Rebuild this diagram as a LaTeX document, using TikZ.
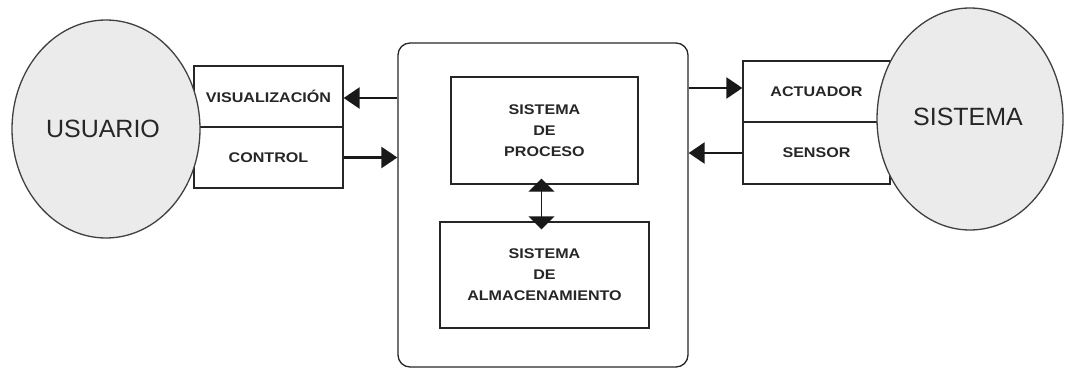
\documentclass[tikz,border=0pt]{standalone}
\usepackage{fontspec}
\setmainfont{Liberation Sans}
\newfontfamily\lblfont{Liberation Sans}[FakeStretch=1.15]
\usetikzlibrary{arrows.meta,shapes.geometric}
\tikzset{
  frame/.style={draw=black!85, line width=1.3pt},
  blk/.style={frame, rectangle, inner sep=0pt, align=center,
    font=\lblfont\bfseries\fontsize{14}{21}\selectfont, text=black!85},
  actor/.style={draw=black!75, line width=1.3pt, fill=black!8, ellipse,
    inner sep=0pt},
  actorlbl/.style={font=\fontsize{25}{25}\selectfont, text=black!85},
  flow/.style={line width=2.6pt, draw=black!90,
    -{Triangle[length=16pt,width=21pt]}},
  link/.style={line width=1.3pt, draw=black!90,
    {Triangle[length=13pt,width=26pt]}-{Triangle[length=13pt,width=26pt]}}
}
\begin{document}
\begin{tikzpicture}[x=1pt,y=-1pt]
\useasboundingbox (0,0) rectangle (1065,369);

% interface boxes (drawn first, the actors overlap their outer edges)
\node[blk, minimum width=149pt, minimum height=61pt] (vis) at (268.5,96.5) {VISUALIZACIÓN};
\node[blk, minimum width=149pt, minimum height=61pt] (ctl) at (268.5,157.5) {CONTROL};
\node[blk, minimum width=147pt, minimum height=61pt] (act) at (816.5,91.5) {ACTUADOR};
\node[blk, minimum width=147pt, minimum height=62pt] (sen) at (816.5,153) {SENSOR};

% actors
\node[actor, minimum width=188pt, minimum height=218pt] (usr) at (106,129) {};
\node[actorlbl] (usrlbl) at (103,129) {USUARIO};
\node[actor, minimum width=186pt, minimum height=222pt] (sys) at (970,119) {};
\node[actorlbl] (syslbl) at (968,117) {SISTEMA};

% central system
\node[frame, rectangle, rounded corners=12pt, minimum width=290pt, minimum height=324pt] (main) at (543,205) {};
\node[blk, minimum width=187pt, minimum height=107pt] (proc) at (544.5,130.5) {SISTEMA\\DE\\PROCESO};
\node[blk, minimum width=209pt, minimum height=106pt] (alm) at (544.5,275) {SISTEMA\\DE\\ALMACENAMIENTO};

% data flows
\draw[flow] ([yshift=-1.5pt]main.west |- vis.east) -- ([yshift=-1.5pt]vis.east);
\draw[flow] (ctl.east) -- (main.west |- ctl.east);
\draw[flow] ([yshift=3.5pt]main.east |- act.west) -- ([yshift=3.5pt]act.west);
\draw[flow] (sen.west) -- (main.east |- sen.west);
\draw[link] ([xshift=-3pt,yshift=6pt]proc.south) -- ([xshift=-3pt,yshift=-8pt]alm.north);
\end{tikzpicture}
\end{document}
